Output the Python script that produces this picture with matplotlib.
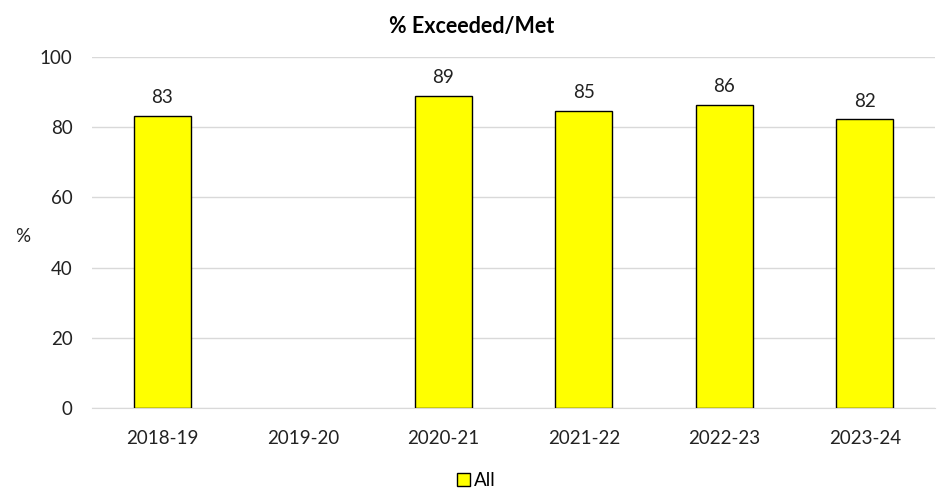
import matplotlib
matplotlib.use("Agg")
import matplotlib.pyplot as plt
import numpy as np
from matplotlib.patches import Patch

plt.rcParams['font.family'] = ['Lato', 'DejaVu Sans']

categories = ["2018-19", "2019-20", "2020-21", "2021-22", "2022-23", "2023-24"]
values = [83.3, np.nan, 88.9, 84.5, 86.3, 82.2]
labels = ["83", "", "89", "85", "86", "82"]
series_name = "All"
title = "% Exceeded/Met"

fig = plt.figure(figsize=(9.4, 4.9), dpi=100)
ax = fig.add_axes([0.0979, 0.167, 0.897, 0.717])

x = np.arange(len(categories))
bars = ax.bar(x, values, width=0.405, color="#FFFF00", edgecolor="black", linewidth=1.0, zorder=3)
for xi, v, lab in zip(x, values, labels):
    if not np.isnan(v):
        ax.text(xi, v + 2.8, lab, ha="center", va="bottom", fontsize=13.5, color="#222222")

ax.set_xlim(-0.5, len(categories) - 0.5)
ax.set_ylim(0, 100)
ax.set_yticks(range(0, 101, 20))
ax.set_xticks(x)
ax.set_xticklabels(categories)
ax.tick_params(axis="both", labelsize=13.5, length=0, colors="#222222")
ax.tick_params(axis="y", pad=14)
ax.tick_params(axis="x", pad=16)
ax.grid(axis="y", color="#D9D9D9", linewidth=1, zorder=0)
for s in ["top", "right", "left"]:
    ax.spines[s].set_visible(False)
ax.spines["bottom"].set_color("#D9D9D9")
ax.set_ylabel("%", rotation=0, fontsize=13.5, color="#222222")
ax.yaxis.set_label_coords(-0.082, 0.465)
fig.suptitle(title, fontsize=15.5, fontweight="bold", y=0.968, x=0.502)

handle = Patch(facecolor="#FFFF00", edgecolor="black", label=series_name)
fig.legend(handles=[handle], loc="lower center", bbox_to_anchor=(0.507, -0.032), frameon=False,
           fontsize=13.5, handlelength=0.7, handleheight=0.7, handletextpad=0.2)

fig.savefig("out.png", dpi=100)
